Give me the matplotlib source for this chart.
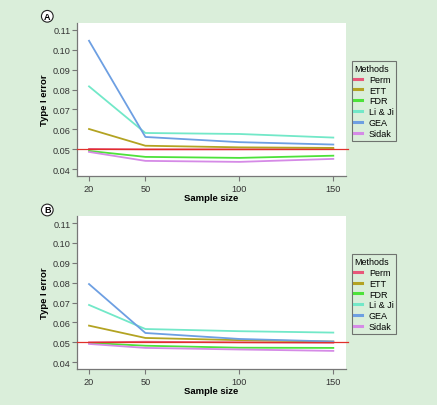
import matplotlib
matplotlib.use("Agg")
import matplotlib.pyplot as plt

sample_sizes = [20, 50, 100, 150]
methods = ["Perm", "ETT", "FDR", "Li & Ji", "GEA", "Sidak"]
colors = ["#e8577a", "#b3a322", "#4de23a", "#72e8c8", "#6d9fe2", "#d58ae6"]

# panel A
perm_a = [0.0502, 0.0500, 0.0500, 0.0501]
ett_a = [0.0602, 0.0518, 0.0510, 0.0507]
fdr_a = [0.0492, 0.0462, 0.0457, 0.0468]
liji_a = [0.0816, 0.0582, 0.0577, 0.0559]
gea_a = [0.1045, 0.0562, 0.0536, 0.0524]
sidak_a = [0.0487, 0.0442, 0.0437, 0.0452]

# panel B
perm_b = [0.0500, 0.0503, 0.0500, 0.0498]
ett_b = [0.0584, 0.0522, 0.0511, 0.0504]
fdr_b = [0.0497, 0.0483, 0.0473, 0.0472]
liji_b = [0.0688, 0.0567, 0.0556, 0.0549]
gea_b = [0.0793, 0.0547, 0.0517, 0.0504]
sidak_b = [0.0492, 0.0472, 0.0464, 0.0457]

y_ticks = [0.04, 0.05, 0.06, 0.07, 0.08, 0.09, 0.10, 0.11]
y_ticklabels = ["0.04", "0.05", "0.06", "0.07", "0.08", "0.09", "0.10", "0.11"]

plt.rcParams["font.family"] = ["Liberation Sans", "DejaVu Sans"]

fig = plt.figure(figsize=(4.37, 4.06), dpi=100)
fig.patch.set_facecolor("#daeeda")

panels = [
    ("A", [0.1762, 0.564, 0.6149, 0.3768], [perm_a, ett_a, fdr_a, liji_a, gea_a, sidak_a], (47.3, 17.3)),
    ("B", [0.1762, 0.0887, 0.6149, 0.3762], [perm_b, ett_b, fdr_b, liji_b, gea_b, sidak_b], (47.3, 211.0)),
]

for letter, rect, series, center in panels:
    ax = fig.add_axes(rect)
    ax.set_facecolor("white")
    for name, vals, col in zip(methods, series, colors):
        ax.plot(sample_sizes, vals, color=col, lw=1.3, label=name)
    ax.axhline(0.05, xmin=0.0, xmax=1.01, color="#e0302a", lw=0.9, zorder=5, clip_on=False)
    ax.set_xlim(13.6, 156.6)
    ax.set_ylim(0.0366, 0.1134)
    ax.set_xticks(sample_sizes)
    ax.set_yticks(y_ticks)
    ax.set_yticklabels(y_ticklabels)
    for side in ["top", "right"]:
        ax.spines[side].set_visible(False)
    for side in ["left", "bottom"]:
        ax.spines[side].set_color("#777777")
        ax.spines[side].set_linewidth(0.9)
    ax.tick_params(direction="out", length=3.6, width=0.8, color="#777777",
                   labelsize=6.6, labelcolor="#333333", pad=1)
    ax.tick_params(axis="x", pad=2)
    ax.set_xlabel("Sample size", fontsize=6.8, fontweight="bold", labelpad=0)
    ax.set_ylabel("Type I error", fontsize=6.8, fontweight="bold", labelpad=3)

    leg = ax.legend(title="Methods", loc="upper left", bbox_to_anchor=(1.022, 0.75),
                    fontsize=6.5, title_fontsize=6.5, frameon=True, fancybox=False,
                    handlelength=0.85, handletextpad=0.75, labelspacing=0.2,
                    borderpad=0.3, borderaxespad=0)
    leg.get_frame().set_edgecolor("#555555")
    leg.get_frame().set_linewidth(0.8)
    leg.get_frame().set_facecolor("#daeeda")
    leg._legend_box.align = "left"
    for h in leg.get_lines():
        h.set_linewidth(2.2)

    fx = center[0] / 437
    fy = 1 - center[1] / 406
    fig.text(fx, fy, letter, fontsize=6.5, fontweight="bold", ha="center", va="center",
             bbox=dict(boxstyle="circle,pad=0.15", fc="white", ec="#222222", lw=0.8))

fig.savefig("out.png", dpi=100, facecolor=fig.get_facecolor())
